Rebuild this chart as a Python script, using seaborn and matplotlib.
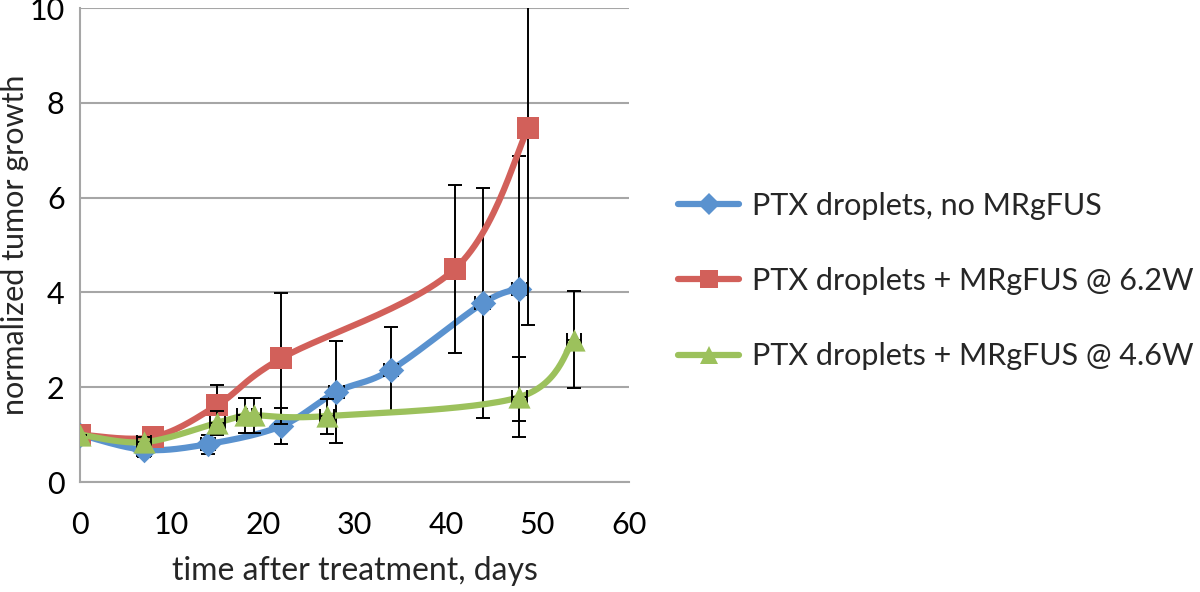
import numpy as np
import pandas as pd
import matplotlib
matplotlib.use("Agg")
import matplotlib.pyplot as plt
from matplotlib.lines import Line2D
import seaborn as sns

# values
blue_x = [0, 7, 14, 22, 28, 34, 44, 48]
blue_y = [1.0, 0.68, 0.8, 1.18, 1.9, 2.37, 3.77, 4.08]
blue_err = [0.0, 0.15, 0.2, 0.38, 1.07, 0.9, 2.43, 2.8]
blue_xerr = [0, 0.8, 0.8, 0, 0.8, 0.8, 0.8, 0.8]

red_x = [0, 8, 15, 22, 41, 49]
red_y = [1.0, 0.95, 1.62, 2.61, 4.5, 7.47]
red_err = [0.0, 0.1, 0.42, 1.38, 1.77, 4.15]
red_xerr = [0, 0.8, 0, 0, 0, 0]

green_x = [0, 7, 15, 18, 19, 27, 48, 54]
green_y = [1.0, 0.84, 1.25, 1.41, 1.41, 1.39, 1.79, 3.0]
green_err = [0.0, 0.1, 0.25, 0.37, 0.37, 0.37, 0.85, 1.02]
green_xerr = [0, 0.8, 0.8, 0.8, 0.8, 0.8, 0.8, 0.8]

labels = ["PTX droplets, no MRgFUS",
          "PTX droplets + MRgFUS @ 6.2W",
          "PTX droplets + MRgFUS @ 4.6W"]
colors = ["#5A92CF", "#D2605A", "#9CC15C"]
markers = ["D", "s", "^"]
msizes = [13, 16, 16]


def smooth(x, y, n=30):
    # catmull-rom through the points, like Excel "smoothed line"
    p = np.column_stack([x, y]).astype(float)
    p = np.vstack([p[0], p, p[-1]])
    out = []
    t = np.linspace(0, 1, n)[:, None]
    for i in range(1, len(p) - 2):
        p0, p1, p2, p3 = p[i - 1], p[i], p[i + 1], p[i + 2]
        seg = 0.5 * ((2 * p1) + (-p0 + p2) * t
                     + (2 * p0 - 5 * p1 + 4 * p2 - p3) * t ** 2
                     + (-p0 + 3 * p1 - 3 * p2 + p3) * t ** 3)
        out.append(seg)
    out = np.vstack(out)
    return out[:, 0], out[:, 1]


sns.set_style("white")
plt.rcParams["font.family"] = ["Lato", "DejaVu Sans"]

fig = plt.figure(figsize=(12, 5.92), dpi=100)
ax = fig.add_axes([80 / 1200, 110 / 592, 549 / 1200, 474 / 592])

series = [(blue_x, blue_y, blue_err, blue_xerr),
          (red_x, red_y, red_err, red_xerr),
          (green_x, green_y, green_err, green_xerr)]

for i, (x, y, e, xe) in enumerate(series):
    sx, sy = smooth(x, y)
    df = pd.DataFrame({"day": sx, "growth": sy})
    sns.lineplot(data=df, x="day", y="growth", sort=False, color=colors[i],
                 linewidth=4.5, ax=ax, zorder=3 + i, estimator=None)
    ax.errorbar(x, y, yerr=e, xerr=xe, fmt="none", ecolor="black",
                elinewidth=1.4, capsize=5, capthick=1.4, zorder=3 + i)
    pts = pd.DataFrame({"day": x, "growth": y})
    sns.scatterplot(data=pts, x="day", y="growth", marker=markers[i],
                    s=msizes[i] ** 2, color=colors[i], edgecolor=colors[i],
                    linewidth=0, ax=ax, zorder=3.5 + i)

ax.set_xlim(0, 60)
ax.set_ylim(0, 10)
ax.set_xticks(range(0, 61, 10))
ax.set_yticks(range(0, 11, 2))
ax.grid(axis="y", color="#A6A6A6", linewidth=1.5)
ax.grid(axis="x", visible=False)
for s in ["top", "right"]:
    ax.spines[s].set_visible(False)
for s in ["left", "bottom"]:
    ax.spines[s].set_color("#A6A6A6")
    ax.spines[s].set_linewidth(1.5)
ax.tick_params(axis="both", direction="out", length=7, width=1.5,
               color="#A6A6A6", labelsize=22, labelcolor="black", pad=4)
ax.tick_params(axis="x", pad=14)
ax.set_xlabel("time after treatment, days", fontsize=23, labelpad=12)
ax.set_ylabel("normalized tumor growth", fontsize=22)
ax.yaxis.set_label_coords(-0.093, 0.5)

handles = [Line2D([], [], color=colors[i], linewidth=4.5, marker=markers[i],
                  markersize=msizes[i] * 0.85, markeredgewidth=0)
           for i in range(3)]
fig.legend(handles, labels, loc="center left", bbox_to_anchor=(666 / 1200, 1 - 281 / 592),
           frameon=False, fontsize=22, handlelength=2.0, handletextpad=0.4,
           labelspacing=1.55, borderaxespad=0)

fig.savefig("out.png", dpi=100)
